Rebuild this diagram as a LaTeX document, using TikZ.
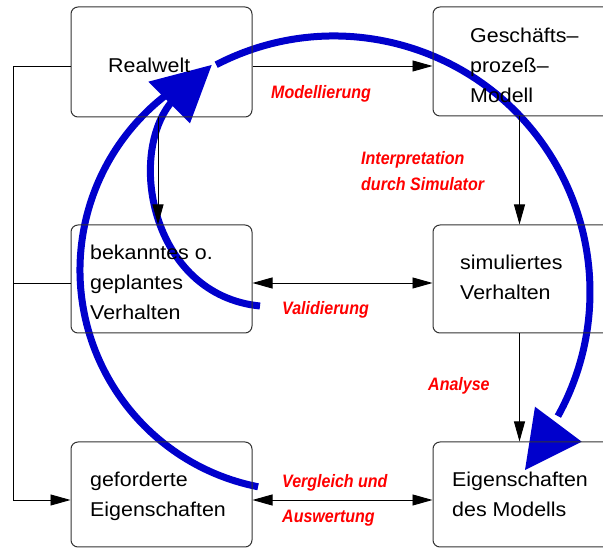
\documentclass[tikz,border=0pt]{standalone}
\usepackage{fontspec}
\setmainfont{Liberation Sans}
\newfontfamily\boxfont[FakeStretch=1.07]{Liberation Sans}
\newfontfamily\lblfont[FakeStretch=0.89]{Liberation Sans Bold Italic}
\usetikzlibrary{arrows.meta}
\definecolor{arcblue}{RGB}{0,0,204}
\definecolor{lblred}{RGB}{255,0,0}
\tikzset{
  box/.style={draw=black!80, line width=1pt, rounded corners=7pt, inner sep=0pt},
  leftbox/.style={box, minimum width=181pt},
  rightbox/.style={box, minimum width=217pt},
  conn/.style={line width=0.9pt, draw=black},
  arr/.style={conn, -{Triangle[length=20pt,width=11pt]}},
  darr/.style={conn, {Triangle[length=20pt,width=11pt]}-{Triangle[length=20pt,width=11pt]}},
  bigarc/.style={draw=arcblue, line width=7pt},
  boxtext/.style={anchor=base west, inner sep=0pt, align=left, font=\boxfont\fontsize{20}{30}\selectfont},
  lbl/.style={anchor=base west, inner sep=0pt, align=left, text=lblred, font=\lblfont\fontsize{18}{26}\selectfont}
}
\begin{document}
\begin{tikzpicture}[x=1pt,y=1pt]
\useasboundingbox (0,0) rectangle (603,549);
\clip (0,0) rectangle (603,549);

% blue arcs (drawn first, lines lie on top)
\draw[bigarc] ([shift={(117.4:256)}]334,257) arc[start angle=117.4, end angle=-29, radius=256];
\draw[bigarc] ([shift={(258.8:221)}]301,279) arc[start angle=258.8, end angle=128, radius=221];
\draw[bigarc] (260,243) .. controls (150,254) and (125,399) .. (175,451);
\coordinate (t1) at (211.7,484);
\coordinate (t1a) at (148.3,467.3);
\coordinate (t1b) at (190,425.7);
\fill[arcblue] (t1) -- (t1a) -- (t1b) -- cycle;
\coordinate (t2) at (525,79);
\coordinate (t2a) at (535,142.3);
\coordinate (t2b) at (581.7,107.3);
\fill[arcblue] (t2) -- (t2a) -- (t2b) -- cycle;

% boxes
\node[leftbox, minimum height=110pt] (rw) at (161.5,487) {};
\node[rightbox, minimum height=109pt] (gm) at (541.5,487.5) {};
\node[leftbox, minimum height=108pt] (bv) at (161.5,270) {};
\node[rightbox, minimum height=108pt] (sv) at (541.5,270) {};
\node[leftbox, minimum height=105pt] (ge) at (161.5,54.5) {};
\node[rightbox, minimum height=105pt] (em) at (541.5,54.5) {};

% connectors
\coordinate (L1) at (13,483);
\coordinate (L2) at (13,266);
\coordinate (L3) at (13,49);
\draw[arr] ([yshift=-4pt]rw.east) -- ([yshift=-4pt]rw.east -| gm.west);
\draw[arr] ([yshift=-4pt]rw.west) -- (L1) -- (L3) -- (L3 -| ge.west);
\draw[conn] (L2) -- (L2 -| bv.west);
\draw[arr] ([xshift=-3.5pt]rw.south) -- ([xshift=-3.5pt]rw.south |- bv.north);
\draw[arr] ([xshift=87pt]gm.south west) -- ([xshift=87pt]sv.north west);
\draw[arr] ([xshift=87pt]sv.south west) -- ([xshift=87pt]em.north west);
\draw[darr] ([yshift=-4pt]bv.east) -- ([yshift=-4pt]bv.east -| sv.west);
\draw[darr] ([yshift=-5.5pt]ge.east) -- ([yshift=-5.5pt]ge.east -| em.west);

% box texts (anchor = baseline of the last line)
\node[boxtext] (trw) at (108,476) {Realwelt};
\node[boxtext] (tgm) at (470,446) {Geschäfts–\\prozeß–\\Modell};
\node[boxtext] (tbv) at (90,229) {bekanntes o.\\geplantes\\Verhalten};
\node[boxtext] (tsv) at (460,249) {simuliertes\\Verhalten};
\node[boxtext] (tge) at (90,32) {geforderte\\Eigenschaften};
\node[boxtext] (tem) at (452,32) {Eigenschaften\\des Modells};

% labels
\node[lbl] (lmod) at (271,450) {Modellierung};
\node[lbl] (lint) at (361,358) {Interpretation\\durch Simulator};
\node[lbl] (lval) at (282,234) {Validierung};
\node[lbl] (lana) at (428,158) {Analyse};
\node[lbl] (lver) at (282,61) {Vergleich und};
\node[lbl] (laus) at (282,26) {Auswertung};
\end{tikzpicture}
\end{document}
